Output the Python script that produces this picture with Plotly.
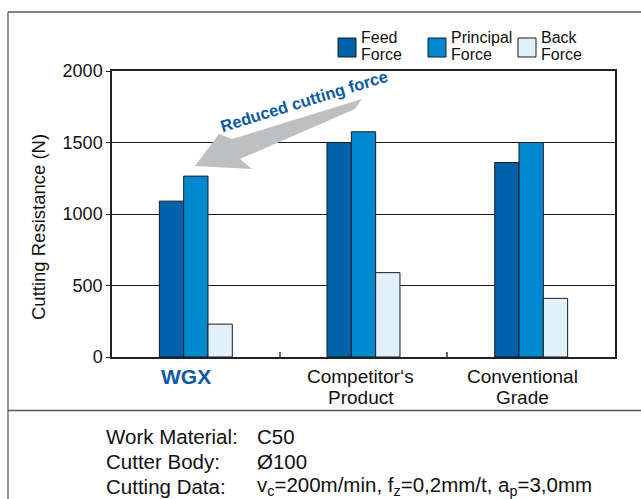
import plotly.graph_objects as go

# ---------------- data ----------------
categories = ["WGX", "Competitor‘s<br>Product", "Conventional<br>Grade"]
series_names = ["Feed<br>Force", "Principal<br>Force", "Back<br>Force"]
feed_force = [1090, 1500, 1360]
principal_force = [1265, 1575, 1500]
back_force = [230, 590, 410]
y_ticks = [0, 500, 1000, 1500, 2000]
conditions_labels = ["Work Material:", "Cutter Body:", "Cutting Data:"]
conditions_values = ["C50", "Ø100",
                     "v<sub>c</sub>=200m/min, f<sub>z</sub>=0,2mm/t, a<sub>p</sub>=3,0mm"]

# ---------------- style ----------------
W, H = 641, 499
ML, MR, MT, MB = 112, 26, 71, 142
PW, PH = W - ML - MR, H - MT - MB
colors = ["#0061ab", "#0089cf", "#e0f1fb"]
FONT = "Liberation Sans, Arial, sans-serif"
BLUE = "#0d5aa7"
label_shift = [-10, -3, -9]


def px(x):
    return (x - ML) / PW


def py(y):
    return (H - MB - y) / PH


fig = go.Figure()
for name, vals, col in zip(series_names, [feed_force, principal_force, back_force], colors):
    fig.add_trace(go.Bar(
        x=categories, y=vals, name=name,
        marker=dict(color=col, line=dict(color="#1a1a1a", width=1)),
        showlegend=False,
    ))

shapes = []
annotations = []

# category labels (drawn as annotations anchored to the category axis)
for i, (cat, dx) in enumerate(zip(categories, label_shift)):
    for j, line in enumerate(cat.split("<br>")):
        if i == 0:
            txt = "<b>%s</b>" % line
            fnt = dict(family=FONT, size=21, color=BLUE)
        else:
            txt = line
            fnt = dict(family=FONT, size=19, color="#111")
        annotations.append(dict(xref="x", yref="paper", x=cat, y=py(376 + 21 * j),
                                xshift=dx, text=txt, showarrow=False,
                                xanchor="center", yanchor="middle", font=fnt))

# custom legend built from series
leg_x = [338, 428, 518]
for name, col, lx in zip(series_names, colors, leg_x):
    shapes.append(dict(type="rect", xref="paper", yref="paper",
                       x0=px(lx), x1=px(lx + 18), y0=py(57), y1=py(38),
                       fillcolor=col, line=dict(color="#1a1a1a", width=1)))
    for j, line in enumerate(name.split("<br>")):
        annotations.append(dict(xref="paper", yref="paper", x=px(lx + 21), y=py(38 + 16 * j),
                                text=line, showarrow=False, xanchor="left", yanchor="middle",
                                align="left", font=dict(family=FONT, size=16, color="#111")))

# frame lines
shapes.append(dict(type="line", xref="paper", yref="paper", x0=px(8), x1=px(641),
                   y0=py(12), y1=py(12), line=dict(color="#808080", width=2)))
shapes.append(dict(type="line", xref="paper", yref="paper", x0=px(8), x1=px(8),
                   y0=py(12), y1=py(499), line=dict(color="#707070", width=1.5)))
shapes.append(dict(type="line", xref="paper", yref="paper", x0=px(8), x1=px(641),
                   y0=py(410.5), y1=py(410.5), line=dict(color="#555555", width=1.5)))

# grey arrow
arrow_pts = [(195, 166), (219, 134), (232, 139), (362, 99), (355, 109), (240, 159), (252, 169)]
path = "M " + " L ".join("%.4f,%.4f" % (px(a), py(b)) for a, b in arrow_pts) + " Z"
shapes.append(dict(type="path", xref="paper", yref="paper", path=path,
                   fillcolor="#bdbfc1", line=dict(width=0)))

annotations.append(dict(xref="paper", yref="paper", x=px(304), y=py(101),
                        text="<b>Reduced cutting force</b>", showarrow=False,
                        textangle=-17, xanchor="center", yanchor="middle",
                        font=dict(family=FONT, size=16.5, color=BLUE)))

# y-axis title
annotations.append(dict(xref="paper", yref="paper", x=px(38), y=py(227),
                        text="Cutting Resistance (N)", showarrow=False, textangle=-90,
                        xanchor="center", yanchor="middle",
                        font=dict(family=FONT, size=18.5, color="#111")))

# conditions text
for i, (lab, val) in enumerate(zip(conditions_labels, conditions_values)):
    yy = 436 + 25 * i
    annotations.append(dict(xref="paper", yref="paper", x=px(104), y=py(yy), text=lab,
                            showarrow=False, xanchor="left", yanchor="middle",
                            font=dict(family=FONT, size=20.5, color="#111")))
    annotations.append(dict(xref="paper", yref="paper", x=px(255), y=py(yy), text=val,
                            showarrow=False, xanchor="left", yanchor="middle",
                            font=dict(family=FONT, size=20.5, color="#111")))

fig.update_layout(
    width=W, height=H,
    margin=dict(l=ML, r=MR, t=MT, b=MB, autoexpand=False),
    paper_bgcolor="white", plot_bgcolor="white",
    template="none",
    barmode="group", bargap=0.565, bargroupgap=0,
    showlegend=False,
    shapes=shapes, annotations=annotations,
    font=dict(family=FONT, size=18, color="#111"),
)
fig.update_xaxes(
    type="category", range=[-0.5, 2.5],
    showticklabels=False,
    tickson="boundaries", ticks="inside", ticklen=5, tickcolor="#666", tickwidth=1.5,
    showline=True, linecolor="#222", linewidth=1.5, mirror=True,
    showgrid=False, automargin=False,
)
fig.update_yaxes(
    range=[0, 2000], tickmode="array", tickvals=y_ticks,
    ticks="outside", ticklen=4, tickcolor="#222",
    showline=True, linecolor="#222", linewidth=1.5, mirror=True,
    showgrid=True, gridcolor="#1a1a1a", gridwidth=1, zeroline=False,
    automargin=False,
    tickfont=dict(family=FONT, size=18, color="#111"),
)

fig.write_html("out.html",
               config={"displayModeBar": False},
               post_script="document.body.style.margin='0px';document.body.style.padding='0px';")
